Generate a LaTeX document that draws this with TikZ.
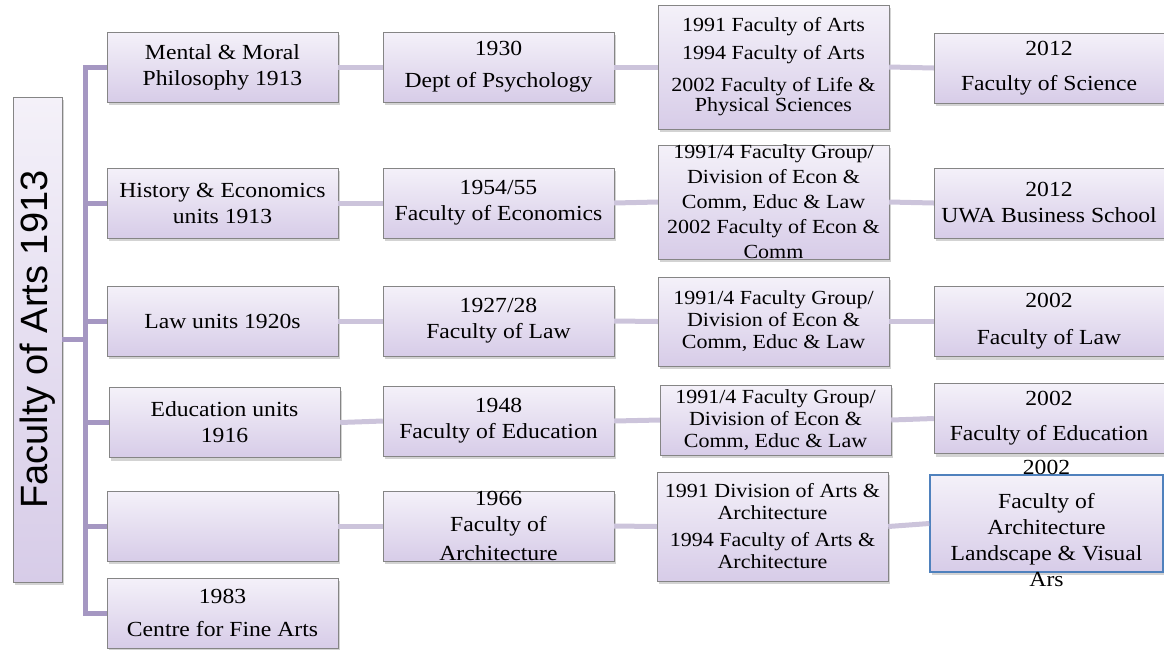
\documentclass[tikz,border=0pt]{standalone}
\usepackage{fontspec}
\setmainfont{Liberation Serif}[FakeStretch=1.1]
\newfontfamily\rootfont{Liberation Sans}
\usetikzlibrary{shadows}
\definecolor{boxtop}{HTML}{F4F1F9}
\definecolor{boxbot}{HTML}{D7CCE8}
\definecolor{boxline}{HTML}{858585}
\definecolor{trunkcol}{HTML}{A597C2}
\definecolor{linkcol}{HTML}{CCC4DB}
\definecolor{blueline}{HTML}{4F81BD}

\begin{document}
\begin{tikzpicture}[x=1pt, y=-1pt,
    box/.style={draw=boxline, top color=boxtop, bottom color=boxbot, minimum width=231pt, minimum height=70pt,
      inner sep=0pt, align=center, font=\fontsize{21.5}{26}\selectfont,
      drop shadow={shadow xshift=2pt, shadow yshift=-3pt, opacity=0.35}},
    small/.style={font=\fontsize{20}{22}\selectfont},
    boxtext/.style={align=center, inner sep=0pt, font=\fontsize{21.5}{26}\selectfont},
    trunk/.style={trunkcol, line width=5pt},
    link/.style={linkcol, line width=5pt}]
    \useasboundingbox (0,0) rectangle (1164,649);

    \node [box, rotate=90, minimum width=485pt, minimum height=49pt, font=\rootfont\fontsize{38}{38}\selectfont]
      (root) at (37.5,339.5) {Faculty of Arts 1913};
    \coordinate (hub) at (85,339.5);

    \node [box] (ment) at (222.5,67) {Mental \& Moral\\Philosophy 1913};
    \node [box] (hist) at (222.5,203) {History \& Economics\\units 1913};
    \node [box] (law) at (222.5,321) {Law units 1920s};
    \node [box] (educ) at (224.5,422.5) {Education units\\1916};
    \node [box] (arch) at (222.5,526) {};
    \node [box] (fine) at (222.5,613) {1983\\[7pt]Centre for Fine Arts};

    \node [box] (psych) at (498.5,67) {1930\\[6pt]Dept of Psychology};
    \node [box] (econ) at (498.5,203) {1954/55\\Faculty of Economics};
    \node [box] (lawfac) at (498.5,321) {1927/28\\Faculty of Law};
    \node [box] (edfac) at (498.5,421) {1948\\Faculty of Education};
    \node [box, label={[boxtext]center:{1966\\Faculty of\\[3pt]Architecture}}] (archfac) at (498.5,526) {};

    \node [box, small, minimum height=124pt] (arts91) at (773.5,67)
      {1991 Faculty of Arts\\[6pt]1994 Faculty of Arts\\[10pt]2002 Faculty of Life \&\\[-2pt]Physical Sciences};
    \node [box, minimum height=114pt, label={[boxtext, small]center:{1991/4 Faculty Group/\\[3pt]Division of Econ \&\\[3pt]Comm, Educ \& Law\\[3pt]2002 Faculty of Econ \&\\[3pt]Comm}}]
      (group1) at (773.5,202) {};
    \node [box, small, minimum height=89pt] (group2) at (773.5,321.5) {1991/4 Faculty Group/\\Division of Econ \&\\Comm, Educ \& Law};
    \node [box, small] (group3) at (775.5,420) {1991/4 Faculty Group/\\Division of Econ \&\\Comm, Educ \& Law};
    \node [box, small, minimum height=109pt] (artsarch) at (772.5,526.5)
      {1991 Division of Arts \&\\Architecture\\[5pt]1994 Faculty of Arts \&\\Architecture};

    \node [box, minimum width=230pt] (sci) at (1049,68) {2012\\[9pt]Faculty of Science};
    \node [box, minimum width=230pt] (biz) at (1049,203) {2012\\UWA Business School};
    \node [box, minimum width=230pt] (law02) at (1049,321.5) {2002\\[11pt]Faculty of Law};
    \node [box, minimum width=230pt] (ed02) at (1049,418.5) {2002\\[9pt]Faculty of Education};
    \node [box, draw=blueline, line width=1.5pt, minimum width=233pt, minimum height=97pt,
      label={[boxtext]center:{2002\\[8pt]Faculty of\\Architecture\\Landscape \& Visual\\Ars}}] (alva) at (1046.5,523.5) {};

    \draw [trunk] (root) -- (hub);
    \foreach \n in {ment,hist,law,educ,arch,fine}
      \draw [trunk] (\n.west) -| (hub);
    \foreach \a/\b in {ment/psych, psych/arts91, arts91/sci, hist/econ, econ/group1, group1/biz,
      law/lawfac, lawfac/group2, group2/law02, educ/edfac, edfac/group3, group3/ed02,
      arch/archfac, archfac/artsarch, artsarch/alva}
      \draw [link] (\a.east) -- (\b.west);
\end{tikzpicture}
\end{document}
